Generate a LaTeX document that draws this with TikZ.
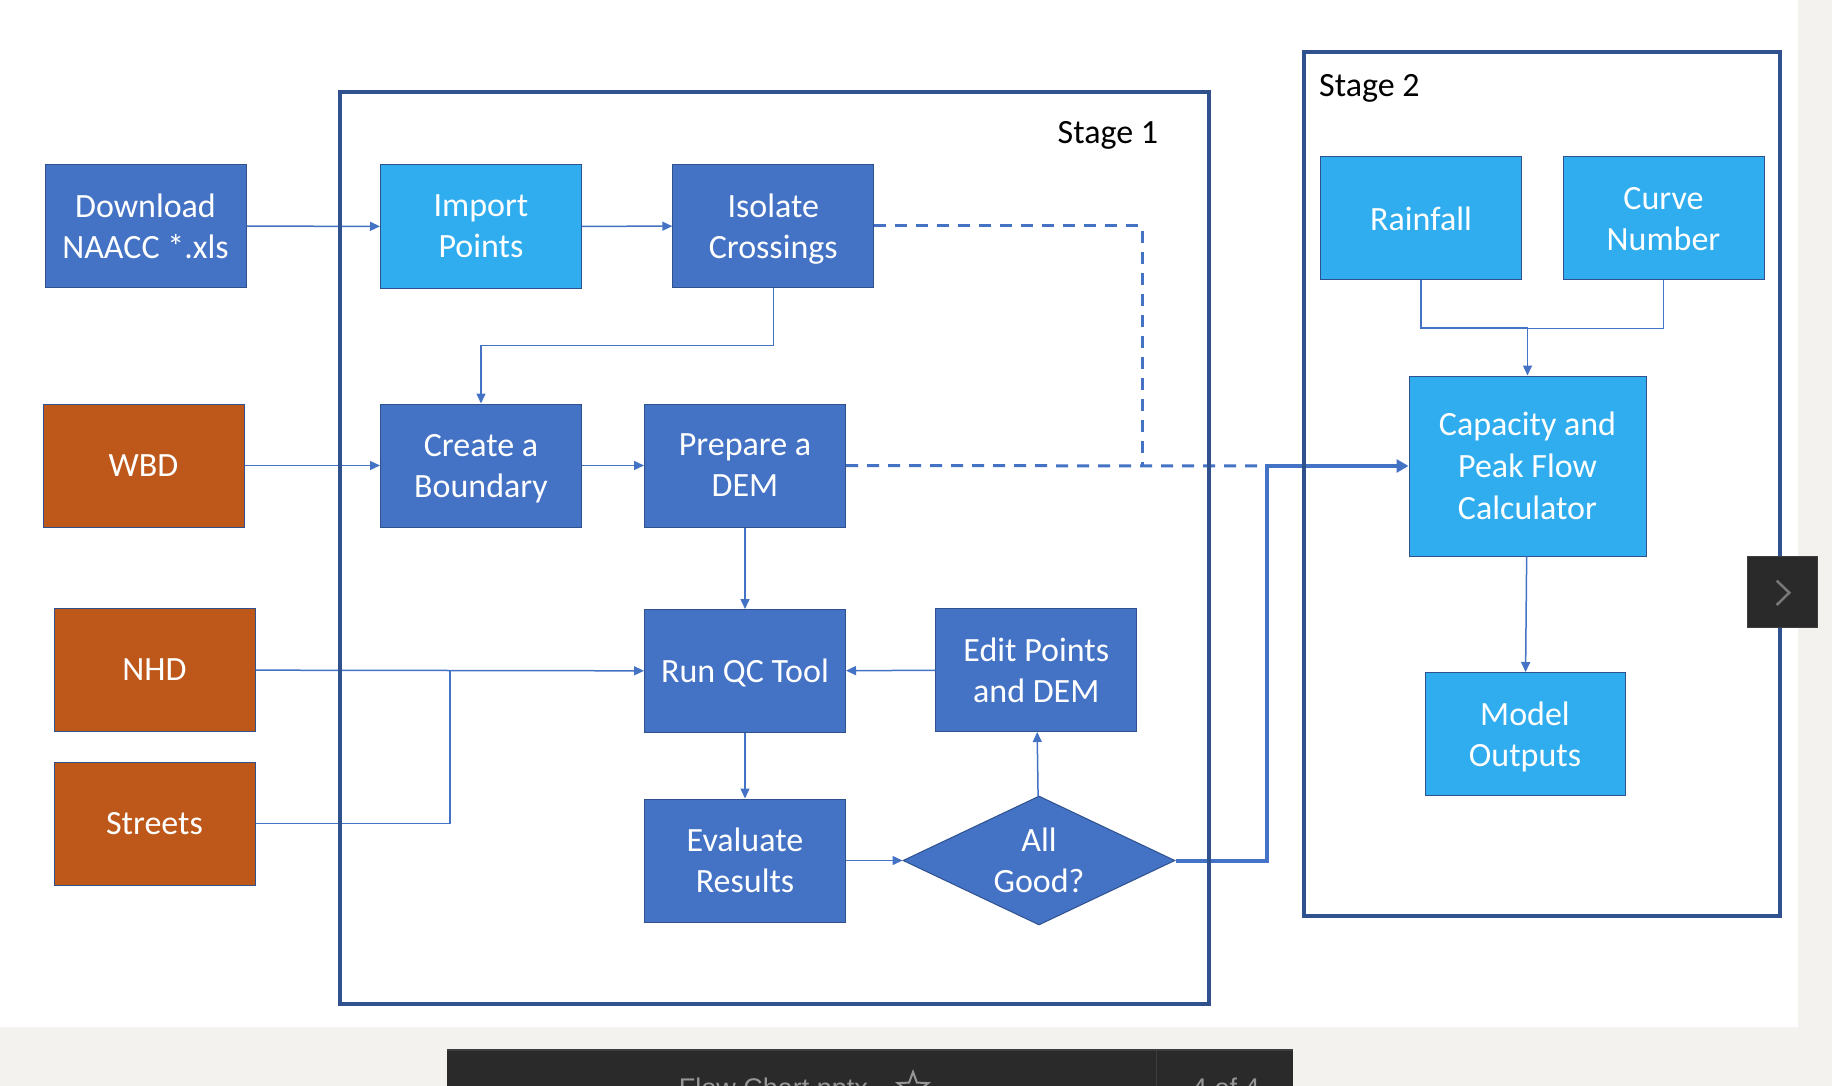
\documentclass[tikz,border=0pt]{standalone}
\usepackage{fontspec}
\setmainfont{Carlito}
\newfontfamily\barfont{Liberation Sans}
\usepackage{tikz}
\usetikzlibrary{arrows.meta,shapes.geometric}
\definecolor{boxblue}{RGB}{68,114,196}
\definecolor{skyblue}{RGB}{47,173,239}
\definecolor{rust}{RGB}{189,88,26}
\definecolor{navy}{RGB}{47,82,143}
\definecolor{pagegray}{RGB}{243,242,239}
\definecolor{bardark}{RGB}{43,42,42}
\definecolor{baredge}{RGB}{62,61,61}
\definecolor{bargray}{RGB}{150,150,150}

\begin{document}
\begin{tikzpicture}[x=1pt, y=-1pt,
	proc/.style={rectangle, draw=navy, line width=1pt, fill=boxblue, text=white, minimum width=201pt, minimum height=123pt, inner sep=0, align=center, text depth=0pt, font=\fontsize{34}{41}\selectfont},
	src/.style={proc, fill=rust},
	inp/.style={proc, fill=skyblue},
	wire/.style={draw=boxblue, line width=1.5pt},
	arr/.style={wire, -{Triangle[length=10pt,width=9pt]}},
	dashwire/.style={draw=boxblue, line width=3pt, dash pattern=on 12pt off 9pt},
	mainwire/.style={draw=boxblue, line width=4pt, -{Triangle[length=12pt,width=13pt]}},
	stageframe/.style={draw=navy, line width=4pt},
	stagelabel/.style={anchor=base west, inner sep=0, font=\fontsize{34}{40}\selectfont},
	barlabel/.style={anchor=base west, inner sep=0, text=bargray, font=\barfont\fontsize{27}{30}\selectfont}]
	\useasboundingbox (0,0) rectangle (1832,1086);
	\fill[pagegray] (0,0) rectangle (1832,1086);
	\fill[white] (0,0) rectangle (1798,1027);
	% Boxes, wires and frames:
	\node[proc] (Dl) at (145.5,226) {Download\\NAACC *.xls};
	\node[inp] (Imp) at (481,226.5) {Import\\Points};
	\node[proc] (Iso) at (773.3,226) {Isolate\\Crossings};
	\node[src] (Wbd) at (143.5,465.5) {WBD};
	\node[proc] (Bnd) at (481,465.5) {Create a\\Boundary};
	\node[proc] (Dem) at (745,465.5) {Prepare a\\DEM};
	\node[src] (Nhd) at (154.5,670) {NHD};
	\node[src] (Str) at (154.5,823.5) {Streets};
	\node[proc] (Qc) at (745,671) {Run QC Tool};
	\node[proc] (Edt) at (1036.3,670) {Edit Points\\and DEM};
	\node[proc] (Evl) at (745,860.5) {Evaluate\\Results};
	\node[proc, shape=diamond, aspect=2.1, minimum width=272pt, minimum height=129pt] (Ok) at (1039,860.5) {All\\Good?};
	\node[inp] (Rain) at (1421,218.5) {Rainfall};
	\node[inp] (Cn) at (1663.5,218.5) {Curve\\Number};
	\node[inp, minimum width=237pt, minimum height=180pt, font=\fontsize{34}{42}\selectfont] (Cap) at (1527.5,466) {Capacity and\\Peak Flow\\Calculator};
	\node[inp, minimum width=200pt] (Out) at (1525,734) {Model\\Outputs};
	\coordinate (Jn) at (450,670);
	\coordinate (Dj) at (1142.5,466);
	\coordinate (Rj) at (1266.7,466);
	\coordinate (Tp) at (1527.5,328);
	\draw[arr] (Dl) -- (Imp);
	\draw[arr] (Imp) -- (Iso);
	\draw[arr] (Iso.south) -- ++(0,57.5) -| (Bnd.north);
	\draw[arr] (Wbd) -- (Bnd);
	\draw[arr] (Bnd) -- (Dem);
	\draw[arr] (Dem) -- (Qc);
	\draw[arr] (Nhd) -- (Qc);
	\draw[wire] (Str.east) -| (Jn);
	\draw[arr] (Edt) -- (Qc);
	\draw[arr] (Qc) -- (Evl);
	\draw[arr] (Evl) -- (Ok);
	\draw[arr] (Ok) -- (Edt);
	\draw[dashwire] (Iso.east) -| (Dj);
	\draw[dashwire] (Dem.east) -- (Rj);
	\draw[mainwire] (Ok.east) -| (Rj) -- (Cap.west);
	\draw[wire] (Rain.south) |- (Tp);
	\draw[wire, line width=1pt] (Cn.south) |- (Tp);
	\draw[arr] (Tp) -- (Cap.north);
	\draw[arr] (Cap) -- (Out);
	\draw[stageframe] (340,92) rectangle (1209,1004);
	\draw[stageframe] (1303.6,52) rectangle (1779.7,916);
	\node[stagelabel] (S1) at (1057.5,143.3) {Stage 1};
	\node[stagelabel] (S2) at (1319,96.3) {Stage 2};
	% viewer controls
	\fill[bardark] (447,1049) rectangle (1293,1090);
	\draw[baredge, line width=2pt] (447,1050) -- (1293,1050);
	\draw[baredge, line width=1pt] (1156,1051) -- (1156,1090);
	\node[barlabel] (Fn) at (678.6,1097) {Flow Chart.pptx};
	\node[star, star points=5, star point ratio=2.4, draw=bargray, line width=2pt, minimum size=32pt, inner sep=0] (Fav) at (913,1088) {};
	\node[barlabel] (Pg) at (1192,1097) {4 of 4};
	\node[rectangle, fill=bardark, draw=baredge, line width=1pt, minimum width=70pt, minimum height=71pt, inner sep=0] (Nxt) at (1782.3,592.2) {};
	\draw[bargray!80!black, line width=2.5pt] (1776.7,580.7) -- (1789.3,592.7) -- (1776.7,605);
\end{tikzpicture}
\end{document}
